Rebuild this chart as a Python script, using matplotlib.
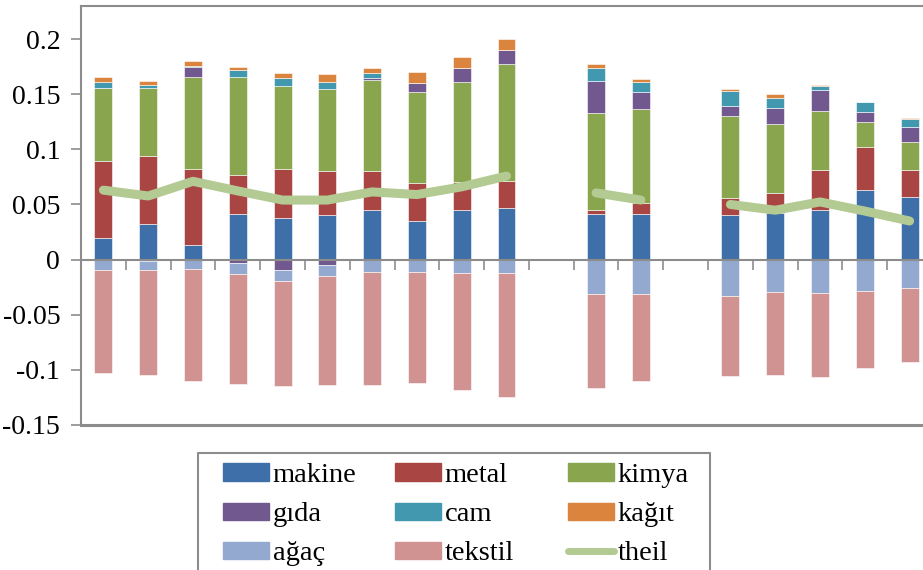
import numpy as np
import matplotlib
matplotlib.use('Agg')
import matplotlib.pyplot as plt
from matplotlib.patches import Patch
from matplotlib.lines import Line2D

plt.rcParams['font.family'] = ['Liberation Serif', 'DejaVu Serif']

# 19 kategori, 10 ve 13 bos
makine = [0.020, 0.032, 0.0134, 0.0418, 0.038, 0.0405, 0.045, 0.0348, 0.045, 0.0472, None,
          0.0418, 0.0415, None, 0.0405, 0.0427, 0.0454, 0.0632, 0.0572]
metal = [0.069, 0.062, 0.0686, 0.0352, 0.044, 0.0395, 0.0357, 0.0344, 0.0254, 0.0241, None,
         0.0032, 0.0099, None, 0.0155, 0.0181, 0.0362, 0.0386, 0.0238]
kimya = [0.067, 0.062, 0.084, 0.0888, 0.075, 0.0743, 0.082, 0.0827, 0.0911, 0.1063, None,
         0.0882, 0.0856, None, 0.074, 0.0624, 0.0531, 0.0226, 0.0256]
gida = [0.0, -0.0015, 0.009, -0.0035, -0.0098, -0.005, 0.0016, 0.0085, 0.0125, 0.0129, None,
        0.0286, 0.0149, None, 0.009, 0.0142, 0.0187, 0.0096, 0.0134]
cam = [0.0055, 0.0025, 0.001, 0.0066, 0.008, 0.0072, 0.0045, 0.0, 0.0, 0.0, None,
       0.0124, 0.0096, None, 0.0135, 0.0088, 0.0042, 0.0088, 0.0074]
kagit = [0.0045, 0.0035, 0.0043, 0.0024, 0.0038, 0.0064, 0.0052, 0.0096, 0.010, 0.0093, None,
         0.0034, 0.0021, None, 0.0021, 0.0036, 0.0009, 0.0, 0.0009]
agac = [-0.009, -0.0083, -0.0083, -0.0093, -0.0094, -0.0096, -0.011, -0.0116, -0.0119, -0.0119, None,
        -0.0315, -0.0312, None, -0.0327, -0.0297, -0.0306, -0.0285, -0.0255]
tekstil = [-0.094, -0.0947, -0.1014, -0.1002, -0.0956, -0.0993, -0.1029, -0.0999, -0.1068, -0.1131, None,
           -0.0851, -0.0788, None, -0.0727, -0.0754, -0.076, -0.0697, -0.0675]
theil = [0.063, 0.0577, 0.071, 0.0623, 0.054, 0.054, 0.0614, 0.059, 0.066, 0.0758, None,
         0.0605, 0.054, None, 0.050, 0.0448, 0.0523, 0.044, 0.035]

names = ['makine', 'metal', 'kimya', 'gıda', 'cam', 'kağıt', 'ağaç', 'tekstil']
series = [makine, metal, kimya, gida, cam, kagit, agac, tekstil]
colors = ['#3F6FA8', '#A94543', '#89A54E', '#71588F', '#4198AF', '#DB843D', '#93A9CF', '#D19392']
theil_color = '#B3CA93'
gray = '#8C8C8C'

W, H = 923, 570
fig = plt.figure(figsize=(W / 100, H / 100), dpi=100)
ax = fig.add_axes([81 / W, 1 - 425 / H, 851 / W, 419 / H])

x = np.arange(len(makine))
pos_base = np.zeros(len(x))
neg_base = np.zeros(len(x))
for name, vals, c in zip(names, series, colors):
    v = np.nan_to_num(np.array(vals, dtype=float))
    bottom = np.where(v >= 0, pos_base, neg_base)
    ax.bar(x, v, 0.4, bottom=bottom, color=c, edgecolor='white', linewidth=0.4, zorder=2)
    pos_base = pos_base + np.where(v > 0, v, 0)
    neg_base = neg_base + np.where(v < 0, v, 0)

ax.plot(x, np.array(theil, dtype=float), color=theil_color, lw=6.5,
        solid_capstyle='round', solid_joinstyle='round', zorder=3)

ax.set_xlim(-0.5, len(x) - 0.5)
ax.set_ylim(-0.15, 0.23)

yt = [-0.15, -0.1, -0.05, 0, 0.05, 0.1, 0.15, 0.2]
ax.set_yticks(yt)
ax.set_yticklabels(['-0.15', '-0.1', '-0.05', '0', '0.05', '0.1', '0.15', '0.2'], fontsize=20)
ax.tick_params(axis='y', length=7, width=1.2, color=gray, pad=8)

# kategori ekseni sifirda
ax.spines['bottom'].set_position(('data', 0))
ax.set_xticks(np.arange(0.5, len(x) - 0.5, 1.0))
ax.set_xticklabels([])
ax.tick_params(axis='x', direction='out', length=7, width=1.2, color=gray)
for s in ['left', 'top', 'bottom', 'right']:
    ax.spines[s].set_color(gray)
    ax.spines[s].set_linewidth(1.5)
ax.axhline(-0.15, color=gray, lw=2.2, clip_on=False, zorder=4)

# legend: cerceve (alt kenar resmin disinda) + 3 sutun
x0, x1 = 198 / W, 710 / W
y0, y1 = -0.05, 1 - 453 / H
fig.add_artist(Line2D([x0, x0, x1, x1], [y0, y1, y1, y0], transform=fig.transFigure,
                      color=gray, lw=1.5))
handles = [Patch(color=c) for c in colors] + [Line2D([], [], color=theil_color, lw=5, solid_capstyle='round')]
labels = names + ['theil']
col_x = [223, 395, 568]
for j in range(3):
    idx = [j, j + 3, j + 6]
    fig.legend([handles[i] for i in idx], [labels[i] for i in idx],
               loc='upper left', bbox_to_anchor=(col_x[j] / W, 1 - 463 / H),
               fontsize=20.5, frameon=False, handlelength=1.6, handleheight=0.55,
               handletextpad=0.14, labelspacing=0.5, borderpad=0, borderaxespad=0)

fig.savefig('out.png', dpi=100)
